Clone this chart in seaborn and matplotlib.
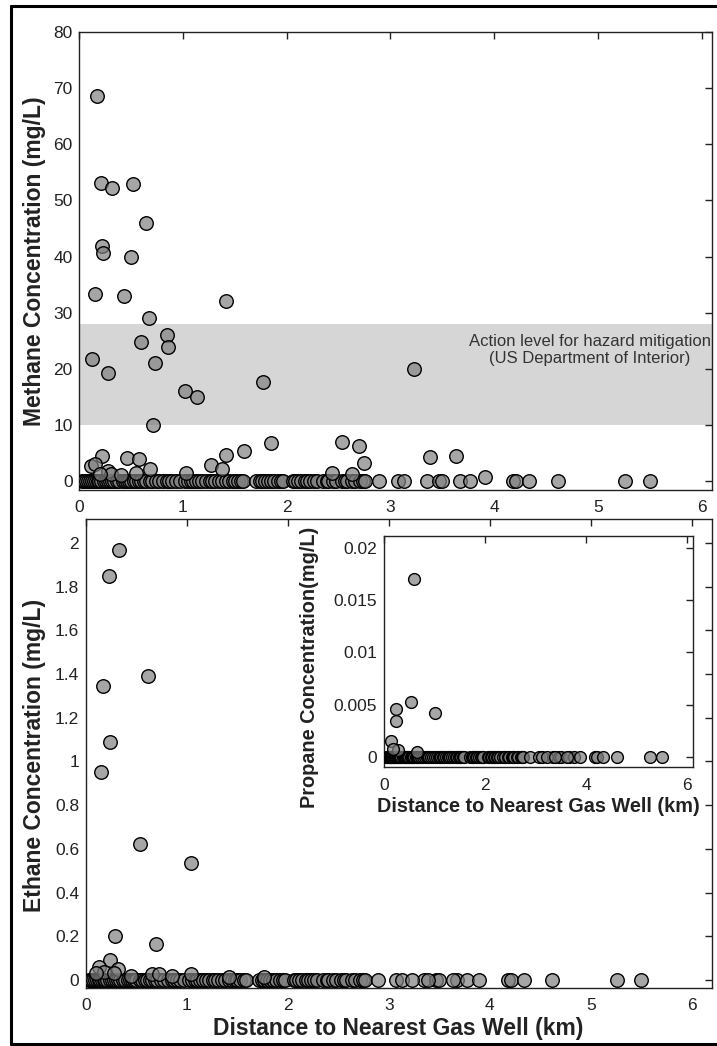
import numpy as np
import pandas as pd
import matplotlib
matplotlib.use("Agg")
import matplotlib.pyplot as plt
import seaborn as sns
from matplotlib.ticker import FuncFormatter
from matplotlib.lines import Line2D

# ---------------- data ----------------
# distances (km) of wells with non-detect (~0) concentrations
dist_nd = [0.03, 0.05, 0.07, 0.09, 0.11, 0.13, 0.14, 0.16, 0.18, 0.19, 0.21, 0.24,
           0.26, 0.28, 0.30, 0.32, 0.34, 0.37, 0.39, 0.42, 0.44, 0.46, 0.48, 0.50,
           0.53, 0.55, 0.58, 0.60, 0.63, 0.65, 0.68, 0.70, 0.74, 0.77, 0.81, 0.85,
           0.87, 0.90, 0.93, 0.97, 1.02, 1.05, 1.08, 1.10, 1.13, 1.16, 1.19, 1.22,
           1.26, 1.28, 1.31, 1.35, 1.38, 1.42, 1.45, 1.48, 1.50, 1.53, 1.56, 1.58,
           1.71, 1.74, 1.76, 1.79, 1.82, 1.85, 1.88, 1.92, 1.95, 1.97, 2.06, 2.08,
           2.11, 2.14, 2.18, 2.20, 2.23, 2.26, 2.29, 2.35, 2.39, 2.40, 2.45, 2.48,
           2.53, 2.56, 2.58, 2.63, 2.66, 2.71, 2.74, 2.76, 2.89, 3.07, 3.13, 3.35,
           3.47, 3.50, 3.67, 3.77, 4.18, 4.21, 4.34, 4.62, 5.26, 5.50]
# extra non-detect distances for ethane / propane (methane detected there)
dist_nd_extra = [3.23, 3.39, 3.63, 3.89]

# methane detections
methane_x = [0.17, 0.21, 0.32, 0.52, 0.65, 0.22, 0.23, 0.50, 0.155, 0.43, 1.42,
             0.67, 0.60, 0.85, 0.86, 0.13, 0.735, 0.28, 3.23, 1.77, 1.02, 1.14,
             0.71, 1.85, 2.53, 2.70, 2.75, 1.59, 1.42, 1.27, 1.38, 3.38, 3.63,
             0.22, 0.46, 0.58, 0.12, 0.155, 0.28, 0.31, 0.40, 0.55, 0.68, 1.03,
             2.44, 2.63, 3.91, 0.20]
methane_y = [68.6, 53.1, 52.2, 53.0, 46.0, 41.9, 40.6, 40.0, 33.3, 33.0, 32.1,
             29.1, 24.7, 26.1, 23.9, 21.7, 21.0, 19.2, 20.0, 17.7, 16.1, 14.9,
             10.0, 6.7, 7.0, 6.3, 3.2, 5.4, 4.7, 2.9, 2.1, 4.2, 4.4,
             4.4, 4.1, 3.9, 2.7, 3.1, 1.8, 1.3, 1.1, 1.5, 2.1, 1.4,
             1.5, 1.2, 0.7, 1.2]

# ethane detections
ethane_x = [0.33, 0.225, 0.17, 0.61, 0.235, 0.145, 0.53, 1.04, 0.29, 0.69,
            0.235, 0.125, 0.18, 0.32, 0.65, 0.72, 1.04, 0.45, 0.85, 1.42,
            1.76, 0.10, 0.28]
ethane_y = [1.97, 1.85, 1.346, 1.39, 1.087, 0.954, 0.62, 0.533, 0.20, 0.165,
            0.092, 0.06, 0.037, 0.05, 0.025, 0.025, 0.025, 0.02, 0.02, 0.015,
            0.015, 0.03, 0.03]

# propane detections
propane_x = [0.60, 0.23, 0.23, 0.53, 1.02, 0.13, 0.28, 0.66, 0.18]
propane_y = [0.0170, 0.0046, 0.0034, 0.0052, 0.0042, 0.0015, 0.0007, 0.0005, 0.0008]

methane_ticks = [0, 10, 20, 30, 40, 50, 60, 70, 80]
ethane_ticks = [0, 0.2, 0.4, 0.6, 0.8, 1.0, 1.2, 1.4, 1.6, 1.8, 2.0]
propane_ticks = [0, 0.005, 0.01, 0.015, 0.02]
dist_ticks_main = [0, 1, 2, 3, 4, 5, 6]
dist_ticks_inset = [0, 2, 4, 6]

# ---------------- style ----------------
sns.set_style("white")
plt.rcParams['font.family'] = ['Liberation Sans', 'DejaVu Sans']

FACE = (0.50, 0.50, 0.50, 0.70)
EDGE = "black"
SPINE = "#222222"

W, H = 717, 1046
fig = plt.figure(figsize=(W / 100, H / 100), dpi=100)


def frac(left, top, right, bottom):
    return [left / W, 1 - bottom / H, (right - left) / W, (bottom - top) / H]


ax1 = fig.add_axes(frac(79, 32, 712, 490))
ax2 = fig.add_axes(frac(86, 519, 712, 988))
ax3 = fig.add_axes(frac(384, 536, 693, 767))

fmt = FuncFormatter(lambda v, p: f"{v:g}")


def points(ax, x, y, s):
    sns.scatterplot(x=x, y=y, ax=ax, s=s, facecolor=FACE, edgecolor=EDGE,
                    linewidth=1.0, legend=False, zorder=3)


def style(ax, xt, yt, xlim, ylim, fs, xpad, ypad):
    ax.set_xlim(*xlim)
    ax.set_ylim(*ylim)
    ax.set_xticks(xt)
    ax.set_yticks(yt)
    ax.xaxis.set_major_formatter(fmt)
    ax.yaxis.set_major_formatter(fmt)
    ax.tick_params(axis="both", which="both", direction="in", length=5,
                   width=1.0, color=SPINE, top=True, right=True,
                   labelsize=fs, labelcolor="#222222")
    ax.tick_params(axis="x", pad=xpad)
    ax.tick_params(axis="y", pad=ypad)
    for sp in ax.spines.values():
        sp.set_visible(True)
        sp.set_color(SPINE)
        sp.set_linewidth(1.0)
    ax.set_facecolor("white")


# ---- top: methane ----
ax1.axhspan(10, 28, color="#d6d6d6", zorder=0, lw=0)
points(ax1, dist_nd, [0] * len(dist_nd), 95)
points(ax1, methane_x, methane_y, 95)
style(ax1, dist_ticks_main, methane_ticks, (0, 6.1), (-1.6, 80), 12.5, 7, 4.5)
ax1.set_xlabel("")
ax1.set_ylabel("Methane Concentration (mg/L)", fontsize=16.5, fontweight="bold",
               color="#222222")
ax1.yaxis.set_label_coords(-0.052, 0.5)
ax1.text(4.92, 23.3, "Action level for hazard mitigation\n(US Department of Interior)",
         ha="center", va="center", fontsize=12, color="#333333", zorder=2)

# ---- bottom: ethane ----
eth_nd = dist_nd + dist_nd_extra
points(ax2, eth_nd, [0] * len(eth_nd), 95)
points(ax2, ethane_x, ethane_y, 95)
style(ax2, dist_ticks_main, ethane_ticks, (0, 6.2), (-0.037, 2.11), 12.5, 7, 5)
ax2.set_xlabel("Distance to Nearest Gas Well (km)", fontsize=16.5,
               fontweight="bold", color="#222222")
ax2.xaxis.set_label_coords(0.498, -0.061)
ax2.set_ylabel("Ethane Concentration (mg/L)", fontsize=16.5, fontweight="bold",
               color="#222222")
ax2.yaxis.set_label_coords(-0.064, 0.495)

# ---- inset: propane ----
points(ax3, eth_nd, [0] * len(eth_nd), 72)
points(ax3, propane_x, propane_y, 72)
style(ax3, dist_ticks_inset, propane_ticks, (0, 6.12), (-0.00096, 0.0211), 12.5, 8, 5)
ax3.set_xlabel("Distance to Nearest Gas Well (km)", fontsize=14.3,
               fontweight="bold", color="#222222")
ax3.xaxis.set_label_coords(0.498, -0.128)
ax3.set_ylabel("Propane Concentration(mg/L)", fontsize=14.3, fontweight="bold",
               color="#222222")
ax3.yaxis.set_label_coords(-0.21, 0.43)

# ---- figure frame ----
lw = 2.2
x0, x1 = 10.5 / W, 1.0
y0, y1 = 1 - 1044 / H, 1 - 5.5 / H
for xs, ys in [((x0, x1), (y1, y1)), ((x0, x1), (y0, y0)), ((x0, x0), (y0, y1))]:
    fig.add_artist(Line2D(xs, ys, color="black", lw=lw, transform=fig.transFigure))

fig.savefig("out.png", dpi=100)
